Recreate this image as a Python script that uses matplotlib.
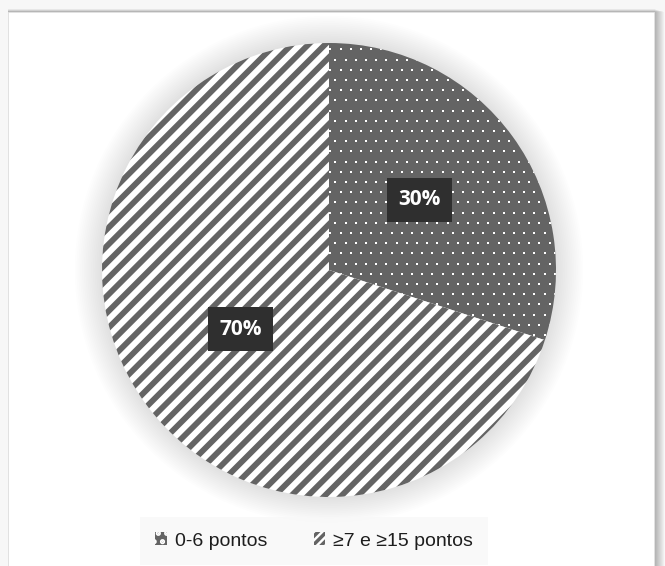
import numpy as np
import matplotlib
matplotlib.use('Agg')
import matplotlib.pyplot as plt
from matplotlib.patches import Rectangle, Circle, Patch
from matplotlib.collections import LineCollection

plt.rcParams['font.family'] = ['Liberation Sans', 'DejaVu Sans']
plt.rcParams['hatch.linewidth'] = 2.5

# score groups and share of patients (%)
categories = ['0-6 pontos', '≥7 e ≥15 pontos']
shares = [30, 70]
label_pos = [(0.40, 0.31), (-0.39, -0.26)]

gray = '#646464'

fig = plt.figure(figsize=(6.65, 5.66), dpi=100)
fig.patch.set_facecolor('#f7f7f7')

# white card with a soft shadow on the right
for i in range(10):
    fig.patches.append(Rectangle((8 / 665, -0.02), (647 + i) / 665, (557 - i * 0.3) / 566 + 0.02,
                                 transform=fig.transFigure, fc='#000000', alpha=0.03,
                                 ec='none', zorder=-3))
fig.patches.append(Rectangle((8 / 665, -0.02), 646 / 665, 556 / 566 + 0.02 - 0.004,
                             transform=fig.transFigure, fc='white', ec='#e4e4e4', lw=0.6, zorder=-2))

R = 227
M = 1.25
ax = fig.add_axes([(329 - M * R) / 665, (566 - 270 - M * R) / 566, 2 * M * R / 665, 2 * M * R / 566])

# halo around the pie
for i in range(16):
    ax.add_patch(Circle((0, 0), 1 + i * 0.008, fc='#000000', alpha=0.009, ec='none', zorder=0))

wedges, _, autotexts = ax.pie(shares, startangle=90, counterclock=False, radius=1,
                              autopct='%d%%', pctdistance=0.5,
                              colors=[gray, 'white'], wedgeprops=dict(linewidth=0),
                              textprops=dict(color='white', fontsize=15, fontweight='bold',
                                             family=['Open Sans', 'DejaVu Sans']))
ax.set_xlim(-M, M)
ax.set_ylim(-M, M)
ax.set_aspect('equal')
ax.axis('off')

for w in wedges:
    w.set_zorder(2)

# diagonal stripes on the larger slice
period = 16.7 / R
segs = [[(-1.1, -1.1 + c), (1.1, 1.1 + c)] for c in np.arange(-2.3, 2.3, period)]
stripes = LineCollection(segs, colors=gray, linewidths=4.2, zorder=3)
ax.add_collection(stripes)
stripes.set_clip_path(wedges[1])

# white dot texture on the smaller slice
step = 10.2 / R
xs, ys = [], []
for j, y in enumerate(np.arange(-1.05, 1.05, step)):
    off = (j % 2) * step / 2
    for x in np.arange(-1.05 + off, 1.05, step):
        xs.append(x)
        ys.append(y)
dots = ax.scatter(xs, ys, s=4.5, marker='s', c='white', linewidths=0, zorder=3)
dots.set_clip_path(wedges[0])

for t, pos in zip(autotexts, label_pos):
    t.set_position(pos)
    t.set_zorder(5)
    t.set_bbox(dict(boxstyle='square,pad=0.55', fc='#2f2f2f', ec='none'))

handles = [Patch(fc=gray, ec='white', hatch='..', lw=0),
           Patch(fc='white', ec=gray, hatch='////', lw=0)]
leg = fig.legend(handles, categories, loc='center', bbox_to_anchor=(314 / 665, 1 - 541 / 566),
                 ncol=2, frameon=True, fontsize=14, handlelength=0.6, handleheight=0.6,
                 handletextpad=0.4, columnspacing=2.4, borderpad=0.5)
leg.get_frame().set_facecolor('#f8f8f8')
leg.get_frame().set_edgecolor('none')
leg.get_frame().set_boxstyle('square')
for t in leg.get_texts():
    t.set_color('#1e1e1e')

fig.savefig('out.png', dpi=100, facecolor=fig.get_facecolor())
